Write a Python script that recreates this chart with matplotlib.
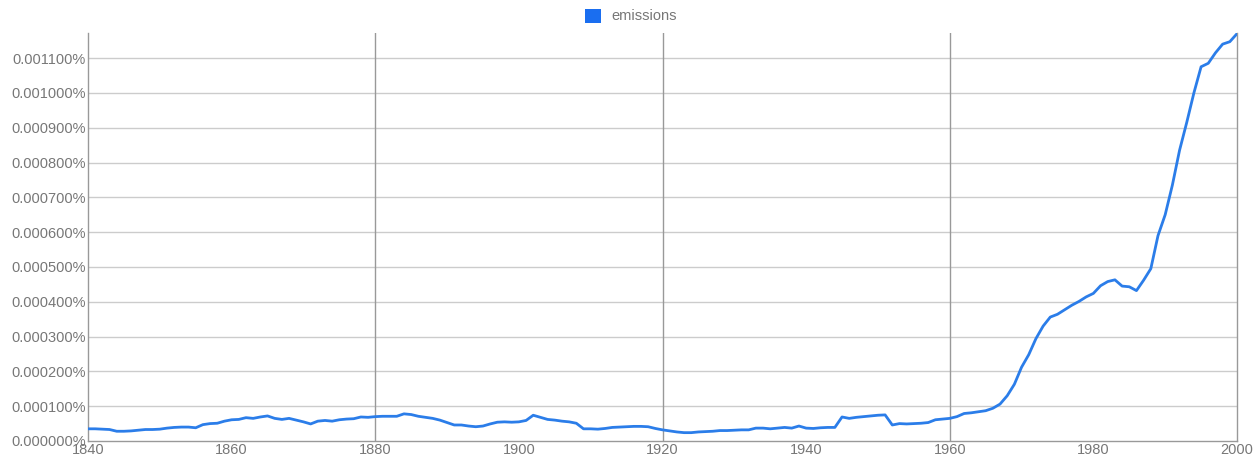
import matplotlib
matplotlib.use("Agg")
import matplotlib.pyplot as plt
from matplotlib.patches import Patch
from matplotlib.ticker import FuncFormatter, MultipleLocator
import numpy as np

plt.rcParams['font.family'] = ['Liberation Sans', 'DejaVu Sans']

years = list(range(1840, 2001))
# yearly frequency of "emissions", in percent
emissions = [
    0.000035, 0.000035, 0.000034, 0.000033, 0.000028, 0.000028, 0.000029, 0.000031, 0.000033, 0.000033,  # 1840s
    0.000034, 0.000037, 0.000039, 0.000040, 0.000040, 0.000038, 0.000047, 0.000050, 0.000051, 0.000057,  # 1850s
    0.000061, 0.000062, 0.000067, 0.000065, 0.000069, 0.000072, 0.000065, 0.000062, 0.000065, 0.000060,  # 1860s
    0.000055, 0.000049, 0.000057, 0.000059, 0.000057, 0.000061, 0.000063, 0.000064, 0.000069, 0.000068,  # 1870s
    0.000070, 0.000071, 0.000071, 0.000071, 0.000078, 0.000076, 0.000071, 0.000068, 0.000065, 0.000060,  # 1880s
    0.000053, 0.000046, 0.000046, 0.000043, 0.000041, 0.000043, 0.000049, 0.000054, 0.000055, 0.000054,  # 1890s
    0.000055, 0.000059, 0.000074, 0.000068, 0.000062, 0.000060, 0.000057, 0.000055, 0.000051, 0.000035,  # 1900s
    0.000035, 0.000034, 0.000036, 0.000039, 0.000040, 0.000041, 0.000042, 0.000042, 0.000041, 0.000036,  # 1910s
    0.000032, 0.000029, 0.000026, 0.000024, 0.000024, 0.000026, 0.000027, 0.000028, 0.000030, 0.000030,  # 1920s
    0.000031, 0.000032, 0.000032, 0.000037, 0.000037, 0.000035, 0.000037, 0.000039, 0.000037, 0.000043,  # 1930s
    0.000037, 0.000036, 0.000038, 0.000039, 0.000039, 0.000069, 0.000065, 0.000068, 0.000070, 0.000072,  # 1940s
    0.000074, 0.000075, 0.000046, 0.000050, 0.000049, 0.000050, 0.000051, 0.000053, 0.000061, 0.000063,  # 1950s
    0.000065, 0.000070, 0.000079, 0.000081, 0.000084, 0.000087, 0.000094, 0.000106, 0.000130, 0.000163,  # 1960s
    0.000212, 0.000248, 0.000294, 0.000330, 0.000356, 0.000364, 0.000377, 0.000390, 0.000401, 0.000414,  # 1970s
    0.000424, 0.000446, 0.000458, 0.000463, 0.000445, 0.000443, 0.000432, 0.000462, 0.000495, 0.000590,  # 1980s
    0.000650, 0.000735, 0.000835, 0.000915, 0.001000, 0.001075, 0.001085, 0.001115, 0.001140, 0.001147,  # 1990s
    0.001170,                                                                                              # 2000
]

series_label = "emissions"
line_color = "#2b7de9"
text_color = "#777777"

W, H = 1259, 459
fig = plt.figure(figsize=(W / 100, H / 100), dpi=100)
ax = fig.add_axes([88 / W, 1 - 441 / H, (1237 - 88) / W, (441 - 33) / H])

ax.plot(years, emissions, color=line_color, lw=2.0, solid_joinstyle='round', zorder=3)

ax.set_xlim(1840, 2000)
ax.set_ylim(0, 0.001172)

ax.xaxis.set_major_locator(MultipleLocator(20))
ax.yaxis.set_major_locator(MultipleLocator(0.0001))
ax.yaxis.set_major_formatter(FuncFormatter(lambda v, p: f"{v:.6f}%"))
ax.xaxis.set_major_formatter(FuncFormatter(lambda v, p: f"{int(round(v))}"))

# horizontal grid: light; vertical grid every 40 years: darker
for yv in np.arange(0.0001, 0.00117, 0.0001):
    ax.axhline(yv, color="#cccccc", lw=1.0, zorder=1)
for xv in (1880, 1920, 1960):
    ax.axvline(xv, color="#999999", lw=1.0, zorder=1)

for side in ("left", "bottom", "right"):
    ax.spines[side].set_color("#999999")
    ax.spines[side].set_linewidth(1.0)
ax.spines["top"].set_visible(False)

ax.tick_params(axis='both', length=0, colors=text_color, labelsize=10.5)
ax.tick_params(axis='y', pad=1.5)
ax.tick_params(axis='x', pad=1.5)

leg = fig.legend(handles=[Patch(facecolor="#1a6ef0", edgecolor="none", label=series_label)],
                 loc='center', bbox_to_anchor=(631 / W, 1 - 16 / H), frameon=False,
                 handlelength=1.1, handleheight=1.1, handletextpad=0.7, fontsize=10.5)
for t in leg.get_texts():
    t.set_color(text_color)

fig.savefig("out.png", dpi=100)
